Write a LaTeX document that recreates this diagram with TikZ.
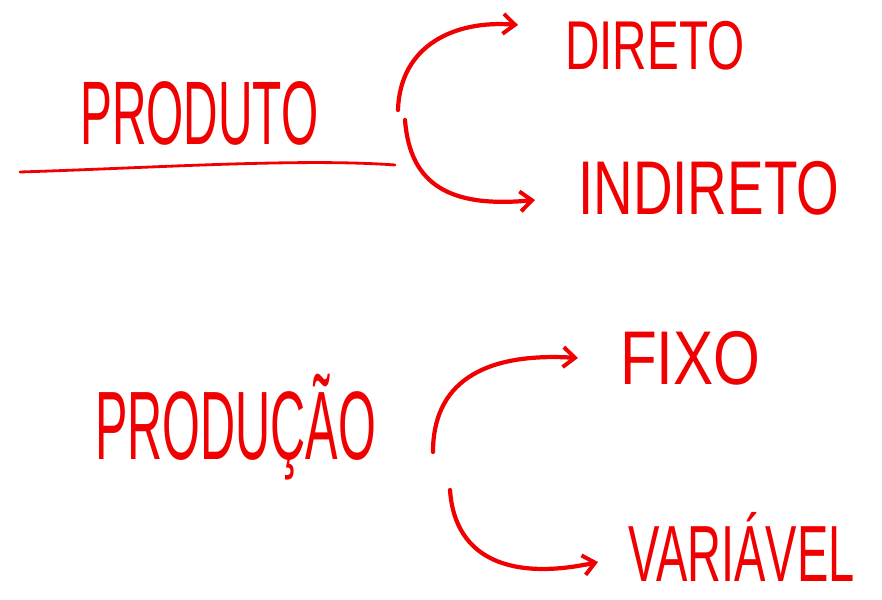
\documentclass[tikz,border=0pt]{standalone}
\usepackage{fontspec}
\setmainfont{Liberation Sans}
\usetikzlibrary{arrows.meta}
\definecolor{ink}{RGB}{240,0,0}
\begin{document}
\begin{tikzpicture}[x=0.03cm,y=-0.03cm,
  word/.style={text=ink, inner sep=0pt, anchor=base west},
  conn/.style={draw=ink, line width=3.6pt, line cap=round, -{Straight Barb[length=10pt,width=17pt,line width=3.4pt]}},
  rule/.style={draw=ink, line width=2.4pt, line cap=round}]
\useasboundingbox (0,0) rectangle (882,600);
% words
\node[word] (produto) at (80,145) {\fontsize{77}{77}\selectfont\scalebox{0.53}[1]{PRODUTO}};
\node[word] (direto) at (565,70) {\fontsize{59}{59}\selectfont\scalebox{0.69}[1]{DIRETO}};
\node[word] (indireto) at (578,215) {\fontsize{65}{65}\selectfont\scalebox{0.72}[1]{INDIRETO}};
\node[word] (producao) at (95,460) {\fontsize{83}{83}\selectfont\scalebox{0.5}[1]{PRODUÇÃO}};
\node[word] (fixo) at (620,385) {\fontsize{65}{65}\selectfont\scalebox{0.79}[1]{FIXO}};
\node[word] (variavel) at (628,582) {\fontsize{68}{68}\selectfont\scalebox{0.59}[1]{VARIÁVEL}};
% underline
\coordinate (u1) at (20,172);
\coordinate (u2) at (395,165);
\draw[rule] (u1) .. controls (150,168) and (300,158) .. (u2);
% arrow endpoints
\coordinate (a1s) at (398,110); \coordinate (a1e) at (518,25);
\coordinate (a2s) at (405,120); \coordinate (a2e) at (535,200);
\coordinate (a3s) at (433,452); \coordinate (a3e) at (578,358);
\coordinate (a4s) at (450,490); \coordinate (a4e) at (598,562);
\draw[conn] (a1s) .. controls (400,45) and (455,20) .. (a1e);
\draw[conn] (a2s) .. controls (410,185) and (450,208) .. (a2e);
\draw[conn] (a3s) .. controls (433,385) and (480,352) .. (a3e);
\draw[conn] (a4s) .. controls (455,562) and (515,580) .. (a4e);
\end{tikzpicture}
\end{document}
